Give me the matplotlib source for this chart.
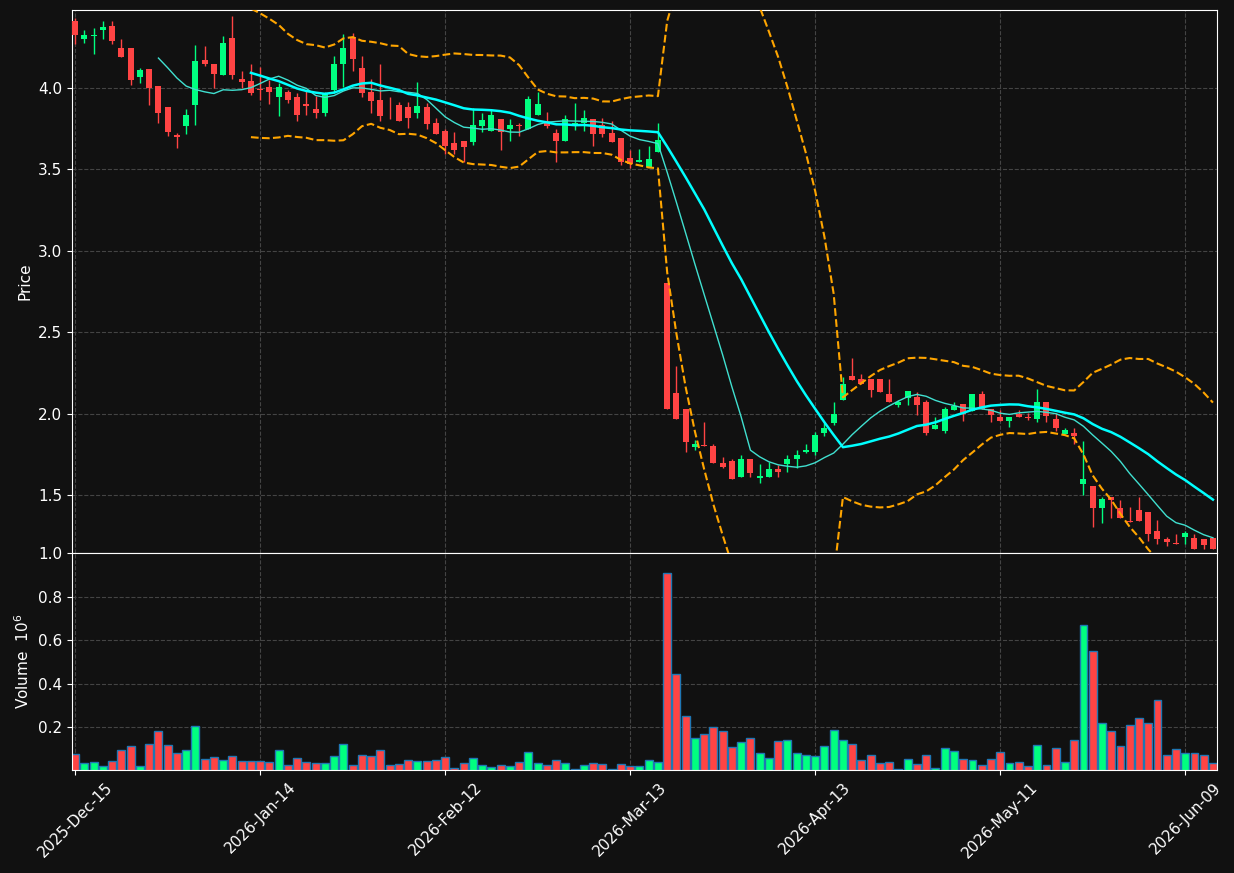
import numpy as np
import pandas as pd
import matplotlib
matplotlib.use("Agg")
import matplotlib.pyplot as plt

# trading calendar (NYSE holidays skipped)
holidays = ["2025-12-25", "2026-01-01", "2026-01-19", "2026-02-16",
            "2026-04-03", "2026-05-25"]
dates = pd.bdate_range("2025-12-15", periods=124, freq="C", holidays=holidays)

opens = [4.414, 4.299, 4.318, 4.355, 4.383, 4.248, 4.248, 4.066, 4.118, 4.009,
         3.880, 3.709, 3.766, 3.894, 4.169, 4.150, 4.081, 4.304, 4.055, 4.040,
         3.991, 4.003, 3.942, 3.972, 3.942, 3.899, 3.868, 3.845, 3.985, 4.146,
         4.310, 4.120, 3.974, 3.923, 3.878, 3.893, 3.880, 3.845, 3.880, 3.782,
         3.735, 3.660, 3.672, 3.666, 3.764, 3.735, 3.811, 3.745, 3.774, 3.747,
         3.833, 3.784, 3.721, 3.674, 3.774, 3.784, 3.811, 3.770, 3.721, 3.690,
         3.567, 3.543, 3.514, 3.606, 2.799, 2.124, 2.026, 1.796, 1.808, 1.800,
         1.696, 1.709, 1.613, 1.719, 1.606, 1.612, 1.660, 1.690, 1.723, 1.764,
         1.766, 1.882, 1.940, 2.084, 2.230, 2.210, 2.210, 2.210, 2.118, 2.052,
         2.097, 2.100, 2.071, 1.905, 1.893, 2.021, 2.058, 2.017, 2.120, 2.028,
         1.979, 1.956, 1.997, 1.979, 1.966, 2.069, 1.964, 1.876, 1.880, 1.566,
         1.555, 1.422, 1.486, 1.420, 1.339, 1.408, 1.394, 1.279, 1.230, 1.200,
         1.244, 1.234, 1.228, 1.234]
highs = [4.431, 4.357, 4.369, 4.414, 4.412, 4.301, 4.248, 4.122, 4.118, 4.009,
         3.880, 3.722, 3.868, 4.261, 4.259, 4.150, 4.316, 4.439, 4.101, 4.149,
         4.128, 4.050, 4.030, 3.989, 3.971, 3.981, 3.950, 3.974, 4.199, 4.330,
         4.340, 4.197, 4.053, 4.149, 3.944, 3.916, 3.911, 4.038, 3.907, 3.813,
         3.750, 3.729, 3.676, 3.876, 3.848, 3.862, 3.811, 3.811, 3.787, 3.948,
         3.972, 3.850, 3.750, 3.836, 3.909, 3.866, 3.811, 3.817, 3.796, 3.690,
         3.620, 3.627, 3.643, 3.787, 2.799, 2.293, 2.026, 1.837, 1.950, 1.812,
         1.735, 1.719, 1.745, 1.719, 1.688, 1.702, 1.684, 1.745, 1.776, 1.812,
         1.884, 1.939, 2.073, 2.226, 2.339, 2.240, 2.210, 2.210, 2.210, 2.083,
         2.136, 2.134, 2.083, 1.976, 2.042, 2.072, 2.058, 2.120, 2.136, 2.028,
         2.022, 1.977, 2.022, 2.001, 2.150, 2.069, 2.001, 1.913, 1.913, 1.833,
         1.555, 1.489, 1.486, 1.469, 1.426, 1.489, 1.394, 1.345, 1.242, 1.260,
         1.279, 1.258, 1.228, 1.234]
lows = [4.271, 4.277, 4.210, 4.301, 4.271, 4.189, 4.021, 4.032, 3.897, 3.784,
        3.704, 3.633, 3.720, 3.774, 4.134, 4.001, 4.081, 4.053, 4.001, 3.956,
        3.924, 3.899, 3.827, 3.907, 3.796, 3.833, 3.813, 3.829, 3.971, 4.007,
        4.101, 3.942, 3.845, 3.796, 3.809, 3.797, 3.752, 3.813, 3.750, 3.717,
        3.596, 3.596, 3.547, 3.651, 3.729, 3.735, 3.620, 3.674, 3.702, 3.747,
        3.833, 3.752, 3.547, 3.674, 3.744, 3.735, 3.645, 3.698, 3.666, 3.529,
        3.510, 3.543, 3.514, 3.606, 2.026, 1.964, 1.766, 1.776, 1.800, 1.694,
        1.664, 1.596, 1.613, 1.613, 1.575, 1.612, 1.612, 1.643, 1.666, 1.757,
        1.745, 1.862, 1.929, 2.084, 2.206, 2.181, 2.100, 2.134, 2.072, 2.042,
        2.050, 1.994, 1.870, 1.905, 1.882, 2.021, 1.957, 2.017, 2.026, 1.946,
        1.956, 1.915, 1.977, 1.960, 1.950, 1.950, 1.890, 1.876, 1.813, 1.498,
        1.306, 1.326, 1.361, 1.357, 1.334, 1.342, 1.218, 1.197, 1.189, 1.198,
        1.201, 1.169, 1.169, 1.169]
closes = [4.324, 4.328, 4.328, 4.374, 4.287, 4.189, 4.048, 4.112, 3.999, 3.845,
          3.729, 3.699, 3.831, 4.163, 4.145, 4.085, 4.279, 4.081, 4.037, 3.969,
          3.985, 3.972, 4.003, 3.923, 3.833, 3.888, 3.845, 3.964, 4.150, 4.248,
          4.177, 3.968, 3.917, 3.825, 3.874, 3.797, 3.815, 3.890, 3.778, 3.717,
          3.641, 3.618, 3.635, 3.770, 3.801, 3.831, 3.729, 3.770, 3.768, 3.929,
          3.899, 3.768, 3.674, 3.811, 3.787, 3.817, 3.717, 3.717, 3.666, 3.545,
          3.535, 3.559, 3.561, 3.678, 2.026, 1.964, 1.827, 1.811, 1.802, 1.694,
          1.674, 1.596, 1.719, 1.637, 1.618, 1.660, 1.641, 1.721, 1.743, 1.776,
          1.868, 1.913, 1.997, 2.181, 2.206, 2.181, 2.144, 2.134, 2.072, 2.072,
          2.136, 2.052, 1.882, 1.929, 2.026, 2.046, 1.995, 2.120, 2.026, 1.991,
          1.956, 1.977, 1.977, 1.975, 2.072, 1.987, 1.913, 1.899, 1.864, 1.599,
          1.422, 1.475, 1.469, 1.357, 1.334, 1.342, 1.259, 1.228, 1.213, 1.198,
          1.265, 1.169, 1.193, 1.169]
volumes = [0.077, 0.035, 0.040, 0.020, 0.045, 0.095, 0.112, 0.020, 0.123, 0.183,
           0.118, 0.081, 0.095, 0.206, 0.054, 0.063, 0.049, 0.068, 0.045, 0.045,
           0.045, 0.040, 0.095, 0.026, 0.058, 0.040, 0.035, 0.035, 0.068, 0.123,
           0.026, 0.072, 0.068, 0.095, 0.026, 0.031, 0.049, 0.045, 0.045, 0.049,
           0.063, 0.012, 0.035, 0.058, 0.026, 0.015, 0.026, 0.022, 0.040, 0.086,
           0.035, 0.026, 0.049, 0.035, 0.008, 0.026, 0.035, 0.031, 0.008, 0.031,
           0.022, 0.022, 0.049, 0.040, 0.910, 0.445, 0.252, 0.149, 0.169, 0.201,
           0.183, 0.109, 0.132, 0.151, 0.081, 0.058, 0.137, 0.141, 0.081, 0.072,
           0.068, 0.114, 0.187, 0.141, 0.123, 0.049, 0.072, 0.035, 0.040, 0.008,
           0.054, 0.031, 0.072, 0.012, 0.104, 0.091, 0.054, 0.049, 0.026, 0.054,
           0.086, 0.035, 0.040, 0.022, 0.118, 0.026, 0.104, 0.040, 0.141, 0.671,
           0.551, 0.220, 0.183, 0.114, 0.210, 0.243, 0.220, 0.326, 0.072, 0.100,
           0.081, 0.081, 0.072, 0.035]

bg = "#111111"
up, down = "#00ff80", "#ff4444"

df = pd.DataFrame({"Open": opens, "High": highs, "Low": lows,
                   "Close": closes, "Volume": volumes}, index=dates)
x = np.arange(len(df))
colors = np.where(df["Close"] >= df["Open"], up, down)

mav10 = df["Close"].rolling(10).mean()
mav20 = df["Close"].rolling(20).mean()
std20 = df["Close"].rolling(20).std(ddof=0)
bb_up = mav20 + 2 * std20
bb_lo = mav20 - 2 * std20

fig = plt.figure(figsize=(12.34, 8.73), dpi=100, facecolor=bg)
ax = fig.add_axes([0.0583, 0.3666, 0.928, 0.622])
axv = fig.add_axes([0.0583, 0.118, 0.928, 0.2486], sharex=ax)

for a in (ax, axv):
    a.set_facecolor(bg)
    for s in a.spines.values():
        s.set_color("white")
    a.tick_params(colors="white", labelsize=11)
    a.grid(True, color="#444444", linestyle="--", linewidth=0.8)
    a.set_axisbelow(True)

# candles
body_lo = np.minimum(df["Open"], df["Close"])
body_h = np.maximum(np.abs(df["Close"] - df["Open"]), 0.004)
ax.vlines(x, df["Low"], df["High"], colors=colors, linewidth=1, zorder=2)
ax.bar(x, body_h, bottom=body_lo, width=0.65, color=colors, linewidth=0, zorder=3)

ax.plot(x, mav10, color="#40e0d0", linewidth=1, zorder=4)
ax.plot(x, mav20, color="#00ffff", linewidth=1.8, zorder=4)
ax.plot(x, bb_up, color="orange", linestyle="--", linewidth=1.5, zorder=4)
ax.plot(x, bb_lo, color="orange", linestyle="--", linewidth=1.5, zorder=4)

ax.set_ylim(1.1437, 4.479)
ax.set_ylabel("Price", color="white", fontsize=11)
ax.tick_params(labelbottom=False)

# volume
axv.bar(x, df["Volume"], width=0.85, color=colors, edgecolor="#1f77b4", linewidth=1)
axv.set_ylim(0.003, 1.001)
axv.set_yticks([0.2, 0.4, 0.6, 0.8, 1.0])
axv.set_ylabel("Volume  $10^6$", color="white", fontsize=11)

ticks = x[::20]
axv.set_xticks(ticks)
axv.set_xticklabels([d.strftime("%Y-%b-%d") for d in dates[::20]], rotation=45)
axv.set_xlim(-0.35, 123.45)

fig.savefig("out.png", dpi=100, facecolor=bg)
